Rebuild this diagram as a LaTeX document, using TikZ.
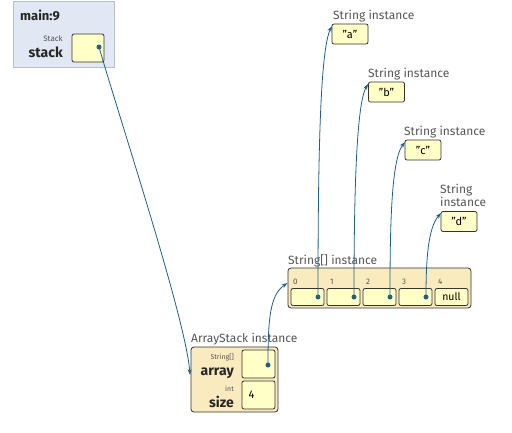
\documentclass[tikz,border=0pt]{standalone}
\usepackage{fontspec}
\setmainfont{Fira Sans}
\usetikzlibrary{arrows.meta}
\definecolor{ptr}{HTML}{1F5F8B}
\definecolor{valfill}{HTML}{FFFFC6}
\definecolor{objfill}{HTML}{FAEBBF}
\definecolor{framefill}{HTML}{E2E8F3}
\definecolor{frameline}{HTML}{B4BFCF}
\definecolor{lbl}{HTML}{555555}
\tikzset{
  valbox/.style={draw=black!80, fill=valfill, rounded corners=2pt, line width=0.8pt, inner sep=0pt},
  objbox/.style={draw=black!80, fill=objfill, rounded corners=3pt, line width=0.8pt, inner sep=0pt},
  caption/.style={text=lbl, font=\fontsize{12}{13}\selectfont, anchor=base west, inner sep=0pt},
  tiny/.style={text=lbl, font=\fontsize{8}{9}\selectfont, inner sep=0pt},
  fld/.style={text=black!85, font=\fontsize{14}{15}\selectfont\bfseries, inner sep=0pt},
  dotc/.style={circle, fill=ptr, inner sep=0pt, minimum size=5pt},
  link/.style={draw=ptr, line width=0.8pt, -{Stealth[length=6pt,width=4pt]}},
  valtxt/.style={font=\fontsize{11}{12}\selectfont, inner sep=0pt}
}
\newcommand{\brk}{{[}{]}}
\begin{document}
\begin{tikzpicture}[x=1pt,y=-1pt]
\useasboundingbox (0,0) rectangle (512,432);
% frame
\node[draw=frameline, fill=framefill, minimum width=101pt, minimum height=66pt, inner sep=0pt, line width=0.6pt] (frame) at (63.5,34) {};
\node[anchor=base west, inner sep=0pt, font=\fontsize{13}{14}\selectfont\bfseries, text=black!85] (fname) at (20,20) {main:9};
\node[tiny, anchor=base east] (stype) at (63,41) {Stack};
\node[fld, anchor=base east] (sname) at (63,57) {stack};
\node[valbox, minimum width=32pt, minimum height=28pt] (sbox) at (88,48) {};
\node[dotc] (sdot) at (99,47) {};

% strings
\node[caption] (la) at (333,19) {String instance};
\node[valbox, minimum width=36pt, minimum height=20pt] (sa) at (350,34) {};
\node[valtxt] (ta) at (350,34) {\symbol{34}a\symbol{34}};
\node[caption] (lb) at (368,77) {String instance};
\node[valbox, minimum width=36pt, minimum height=20pt] (sb) at (386.5,92) {};
\node[valtxt] (tb) at (386.5,92) {\symbol{34}b\symbol{34}};
\node[caption] (lc) at (404,135) {String instance};
\node[valbox, minimum width=36pt, minimum height=20pt] (sc) at (423,150) {};
\node[valtxt] (tc) at (423,150) {\symbol{34}c\symbol{34}};
\node[caption] (ld1) at (440,193) {String};
\node[caption] (ld2) at (440,206) {instance};
\node[valbox, minimum width=36pt, minimum height=20pt] (sd) at (459,221.5) {};
\node[valtxt] (td) at (459,221.5) {\symbol{34}d\symbol{34}};

% array
\node[caption] (larr) at (288,264) {String\brk{} instance};
\node[objbox, minimum width=183pt, minimum height=40pt] (arr) at (379.5,288) {};
\foreach \i/\x in {0/296,1/333,2/369,3/405,4/441}{
  \node[tiny, anchor=base west] (idx\i) at (\x-3,284) {\i};
}
\foreach \i/\x in {0/307.5,1/343.5,2/379.5,3/415.5,4/451.5}{
  \node[valbox, minimum width=33pt, minimum height=17pt] (c\i) at (\x,297) {};
}
\node[valtxt, font=\fontsize{10.5}{11}\selectfont] (tnull) at (c4) {null};
\foreach \i/\x in {0/318,1/354,2/390,3/426}{
  \node[dotc] (d\i) at (\x,297) {};
}

% ArrayStack
\node[caption] (las) at (191,342) {ArrayStack instance};
\node[objbox, minimum width=87pt, minimum height=65pt] (as) at (234.5,379.5) {};
\node[tiny, font=\fontsize{7}{8}\selectfont, anchor=base east] (atype) at (234,359) {String\brk};
\node[fld, anchor=base east] (aname) at (234,375) {array};
\node[tiny, font=\fontsize{7}{8}\selectfont, anchor=base east] (itype) at (234,391) {int};
\node[fld, anchor=base east] (iname) at (234,407) {size};
\node[valbox, minimum width=33pt, minimum height=28pt] (abox) at (258.5,364) {};
\node[valbox, minimum width=33pt, minimum height=28pt] (ibox) at (258.5,395) {};
\node[valtxt, anchor=west] (ival) at (248.5,395) {4};
\node[dotc] (adot) at (268,365) {};

% links
\coordinate (asin) at (190,375);
\draw[link] (sdot.center) .. controls (120,120) and (186,320) .. (asin);
\coordinate (arrin) at (287.5,283);
\draw[link] (adot.center) .. controls (268,318) and (270,295) .. (arrin);
\coordinate (ain) at (332,26);
\coordinate (bin) at (368,84);
\coordinate (cin) at (405,142);
\coordinate (din) at (441,213);
\draw[link] (d0.center) .. controls (318,160) and (320,50) .. (ain);
\draw[link] (d1.center) .. controls (354,200) and (356,105) .. (bin);
\draw[link] (d2.center) .. controls (390,230) and (391,160) .. (cin);
\draw[link] (d3.center) .. controls (426,260) and (428,228) .. (din);
\end{tikzpicture}
\end{document}
